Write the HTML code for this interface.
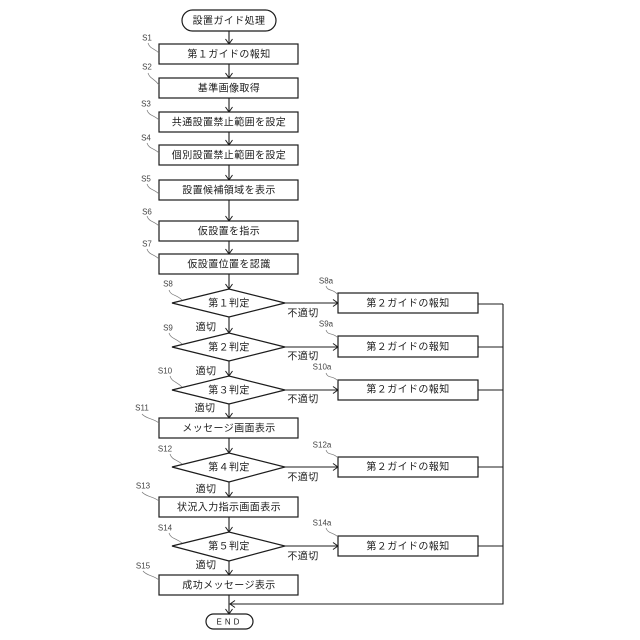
<!DOCTYPE html>
<html lang="ja">
<head>
<meta charset="utf-8">
<style>
html,body{margin:0;padding:0;background:#fff;width:640px;height:640px;overflow:hidden}
svg{display:block}
text{font-family:"Liberation Sans","Noto Sans CJK JP",sans-serif;fill:#1c1c1c}
.t{font-size:10px;letter-spacing:.4px;text-anchor:middle;dominant-baseline:central;transform:translateY(1px)}
.s{font-size:8px;fill:#444;text-anchor:middle;dominant-baseline:central}
.b{fill:#fff;stroke:#1c1c1c;stroke-width:1.2}
.l{fill:none;stroke:#1c1c1c;stroke-width:1.1}
.c{fill:none;stroke:#777;stroke-width:.7}
</style>
</head>
<body>
<svg width="640" height="640" viewBox="0 0 640 640" xmlns="http://www.w3.org/2000/svg">
<defs>
<marker id="a" markerWidth="8" markerHeight="8" refX="6.5" refY="4" orient="auto" markerUnits="userSpaceOnUse"><path d="M1.5 .5L6.5 4L1.5 7.5" fill="none" stroke="#1c1c1c" stroke-width="1"/></marker>
</defs>

<!-- vertical connectors -->
<g class="l">
<path d="M229 31V44" marker-end="url(#a)"/>
<path d="M229 64V78" marker-end="url(#a)"/>
<path d="M229 98V112" marker-end="url(#a)"/>
<path d="M229 132V145" marker-end="url(#a)"/>
<path d="M229 165V180" marker-end="url(#a)"/>
<path d="M229 200V221" marker-end="url(#a)"/>
<path d="M229 241V254" marker-end="url(#a)"/>
<path d="M229 274V289" marker-end="url(#a)"/>
<path d="M229 317V333" marker-end="url(#a)"/>
<path d="M229 361V376" marker-end="url(#a)"/>
<path d="M229 404V418" marker-end="url(#a)"/>
<path d="M229 438V453" marker-end="url(#a)"/>
<path d="M229 482V497" marker-end="url(#a)"/>
<path d="M229 517V532" marker-end="url(#a)"/>
<path d="M229 561V575" marker-end="url(#a)"/>
<path d="M229 595V614" marker-end="url(#a)"/>
<!-- horizontal connectors -->
<path d="M285 303H338" marker-end="url(#a)"/>
<path d="M285 347H338" marker-end="url(#a)"/>
<path d="M285 390H338" marker-end="url(#a)"/>
<path d="M285 467H338" marker-end="url(#a)"/>
<path d="M285 546H338" marker-end="url(#a)"/>
<!-- return -->
<path d="M478 304H503M478 347H503M478 390H503M478 467H503M478 546H503"/>
<path d="M503 304V604H230" marker-end="url(#a)"/>
</g>

<!-- terminators -->
<rect class="b" x="182" y="10" width="94" height="21" rx="10.5"/>
<rect class="b" x="206" y="614" width="47" height="15" rx="7.5"/>

<!-- process boxes -->
<rect class="b" x="159" y="44" width="139" height="20"/>
<rect class="b" x="159" y="78" width="139" height="20"/>
<rect class="b" x="159" y="112" width="139" height="20"/>
<rect class="b" x="159" y="145" width="139" height="20"/>
<rect class="b" x="159" y="180" width="139" height="20"/>
<rect class="b" x="159" y="221" width="139" height="20"/>
<rect class="b" x="159" y="254" width="139" height="20"/>
<rect class="b" x="159" y="418" width="139" height="20"/>
<rect class="b" x="159" y="497" width="139" height="20"/>
<rect class="b" x="159" y="575" width="139" height="20"/>

<!-- diamonds -->
<polygon class="b" points="172,303 229,289 285,303 229,317"/>
<polygon class="b" points="172,347 229,333 285,347 229,361"/>
<polygon class="b" points="172,390 229,376 285,390 229,404"/>
<polygon class="b" points="172,467 229,453 285,467 229,482"/>
<polygon class="b" points="172,546 229,532 285,546 229,561"/>

<!-- right boxes -->
<rect class="b" x="338" y="293" width="140" height="20"/>
<rect class="b" x="338" y="336" width="140" height="21"/>
<rect class="b" x="338" y="380" width="140" height="20"/>
<rect class="b" x="338" y="457" width="140" height="20"/>
<rect class="b" x="338" y="536" width="140" height="20"/>

<!-- node text -->
<text class="t" x="229" y="20.5">設置ガイド処理</text>
<text class="t" x="229" y="54">第１ガイドの報知</text>
<text class="t" x="229" y="88">基準画像取得</text>
<text class="t" x="229" y="122">共通設置禁止範囲を設定</text>
<text class="t" x="229" y="155">個別設置禁止範囲を設定</text>
<text class="t" x="229" y="190">設置候補領域を表示</text>
<text class="t" x="229" y="231">仮設置を指示</text>
<text class="t" x="229" y="264">仮設置位置を認識</text>
<text class="t" x="229" y="303">第１判定</text>
<text class="t" x="229" y="347">第２判定</text>
<text class="t" x="229" y="390">第３判定</text>
<text class="t" x="229" y="428">メッセージ画面表示</text>
<text class="t" x="229" y="467">第４判定</text>
<text class="t" x="229" y="507">状況入力指示画面表示</text>
<text class="t" x="229" y="546">第５判定</text>
<text class="t" x="229" y="585">成功メッセージ表示</text>
<text class="t" x="229.5" y="621" style="font-size:8px;letter-spacing:3px">END</text>

<text class="t" x="408" y="303">第２ガイドの報知</text>
<text class="t" x="408" y="346.5">第２ガイドの報知</text>
<text class="t" x="408" y="389">第２ガイドの報知</text>
<text class="t" x="408" y="466.5">第２ガイドの報知</text>
<text class="t" x="408" y="546">第２ガイドの報知</text>

<!-- edge labels -->
<text class="t" x="303" y="313">不適切</text>
<text class="t" x="303" y="356">不適切</text>
<text class="t" x="303" y="399">不適切</text>
<text class="t" x="303" y="477">不適切</text>
<text class="t" x="303" y="556">不適切</text>
<text class="t" x="206" y="327">適切</text>
<text class="t" x="206" y="371">適切</text>
<text class="t" x="205" y="408">適切</text>
<text class="t" x="206" y="489">適切</text>
<text class="t" x="206" y="565">適切</text>

<!-- step label leaders -->
<path class="c" d="M148 43C150 49 154 48 159 53"/>
<path class="c" d="M148 73C150 79 154 78 159 85"/>
<path class="c" d="M147 110C149 116 154 115 159 120"/>
<path class="c" d="M147 143C149 149 154 148 159 153"/>
<path class="c" d="M147 184C149 190 154 189 159 194"/>
<path class="c" d="M147 216C149 222 154 221 159 226"/>
<path class="c" d="M147 249C149 255 154 254 159 259"/>
<path class="c" d="M169 290C171 296 176 294 182 300"/>
<path class="c" d="M169 333C171 339 176 338 182 344"/>
<path class="c" d="M170 376C172 382 176 381 182 387"/>
<path class="c" d="M142 414C146 419 153 418 159 423"/>
<path class="c" d="M170 454C172 460 176 459 182 464"/>
<path class="c" d="M142 492C146 497 153 496 159 501"/>
<path class="c" d="M169 533C171 539 176 538 182 543"/>
<path class="c" d="M143 571C147 576 153 575 159 580"/>
<path class="c" d="M326 286C328 292 333 288 338 295"/>
<path class="c" d="M326 330C328 336 333 332 338 338"/>
<path class="c" d="M326 373C328 379 333 375 338 381"/>
<path class="c" d="M326 450C328 456 333 452 338 458"/>
<path class="c" d="M326 528C328 534 333 532 338 537"/>

<!-- step labels -->
<text class="s" x="147" y="38">S1</text>
<text class="s" x="147" y="67">S2</text>
<text class="s" x="146" y="104">S3</text>
<text class="s" x="146" y="138">S4</text>
<text class="s" x="146" y="179">S5</text>
<text class="s" x="147" y="212">S6</text>
<text class="s" x="147" y="244">S7</text>
<text class="s" x="168" y="284">S8</text>
<text class="s" x="168" y="328">S9</text>
<text class="s" x="165" y="371">S10</text>
<text class="s" x="142" y="408">S11</text>
<text class="s" x="165" y="449">S12</text>
<text class="s" x="143" y="486">S13</text>
<text class="s" x="165" y="528">S14</text>
<text class="s" x="143" y="566">S15</text>
<text class="s" x="326" y="281">S8a</text>
<text class="s" x="326" y="324">S9a</text>
<text class="s" x="322" y="367">S10a</text>
<text class="s" x="322" y="445">S12a</text>
<text class="s" x="322" y="523">S14a</text>
</svg>
</body>
</html>
